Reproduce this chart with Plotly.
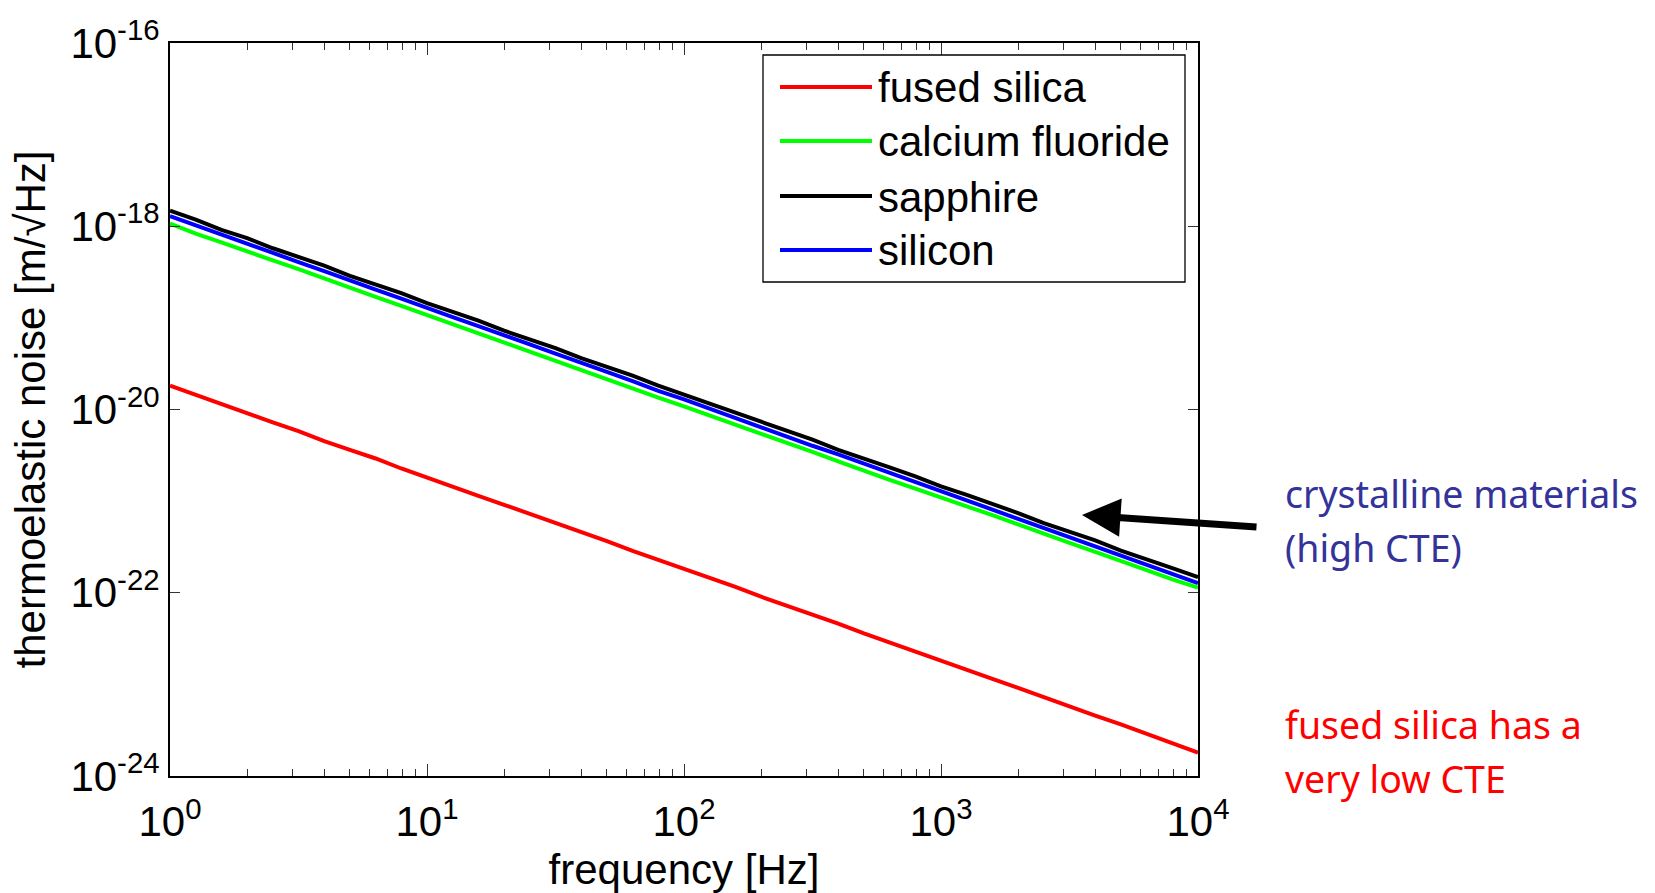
import plotly.graph_objects as go

# ---------------- data ----------------
freq = [1, 1.259, 1.585, 1.995, 2.512, 3.162, 3.981, 5.012, 6.310, 7.943,
        10, 12.59, 15.85, 19.95, 25.12, 31.62, 39.81, 50.12, 63.10, 79.43,
        100, 125.9, 158.5, 199.5, 251.2, 316.2, 398.1, 501.2, 631.0, 794.3,
        1000, 1259, 1585, 1995, 2512, 3162, 3981, 5012, 6310, 7943, 10000]

fused_silica = [1.82e-20, 1.44e-20, 1.17e-20, 9.05e-21, 7.24e-21, 5.80e-21, 4.52e-21, 3.63e-21, 2.92e-21, 2.27e-21,
                1.82e-21, 1.46e-21, 1.14e-21, 9.12e-22, 7.30e-22, 5.70e-22, 4.57e-22, 3.66e-22, 2.86e-22, 2.29e-22,
                1.82e-22, 1.45e-22, 1.16e-22, 9.05e-23, 7.24e-23, 5.75e-23, 4.60e-23, 3.60e-23, 2.88e-23, 2.30e-23,
                1.81e-23, 1.45e-23, 1.15e-23, 9.15e-24, 7.20e-24, 5.75e-24, 4.57e-24, 3.65e-24, 2.86e-24, 2.29e-24,
                1.80e-24]

calcium_fluoride = [1.07e-18, 8.30e-19, 6.65e-19, 5.37e-19, 4.25e-19, 3.40e-19, 2.68e-19, 2.15e-19, 1.69e-19, 1.35e-19,
                    1.07e-19, 8.55e-20, 6.74e-20, 5.37e-20, 4.24e-20, 3.39e-20, 2.70e-20, 2.13e-20, 1.71e-20, 1.35e-20,
                    1.08e-20, 8.62e-21, 6.82e-21, 5.46e-21, 4.30e-21, 3.44e-21, 2.71e-21, 2.18e-21, 1.71e-21, 1.37e-21,
                    1.11e-21, 8.78e-22, 7.02e-22, 5.54e-22, 4.43e-22, 3.50e-22, 2.80e-22, 2.20e-22, 1.77e-22, 1.40e-22,
                    1.14e-22]

sapphire = [1.48e-18, 1.18e-18, 9.12e-19, 7.41e-19, 5.75e-19, 4.68e-19, 3.72e-19, 2.88e-19, 2.34e-19, 1.86e-19,
            1.45e-19, 1.17e-19, 9.33e-20, 7.24e-20, 5.89e-20, 4.68e-20, 3.63e-20, 2.95e-20, 2.34e-20, 1.82e-20,
            1.45e-20, 1.17e-20, 9.33e-21, 7.24e-21, 5.89e-21, 4.68e-21, 3.63e-21, 2.95e-21, 2.34e-21, 1.86e-21,
            1.45e-21, 1.17e-21, 9.33e-22, 7.41e-22, 5.75e-22, 4.68e-22, 3.72e-22, 2.88e-22, 2.34e-22, 1.86e-22,
            1.48e-22]

silicon = [1.29e-18, 1.02e-18, 8.03e-19, 6.46e-19, 5.07e-19, 4.07e-19, 3.24e-19, 2.54e-19, 2.04e-19, 1.62e-19,
           1.27e-19, 1.02e-19, 8.13e-20, 6.38e-20, 5.13e-20, 4.07e-20, 3.20e-20, 2.57e-20, 2.04e-20, 1.60e-20,
           1.29e-20, 1.02e-20, 8.03e-21, 6.46e-21, 5.13e-21, 4.02e-21, 3.24e-21, 2.57e-21, 2.02e-21, 1.62e-21,
           1.29e-21, 1.01e-21, 8.13e-22, 6.46e-22, 5.07e-22, 4.07e-22, 3.24e-22, 2.54e-22, 2.04e-22, 1.60e-22,
           1.27e-22]

series_names = ["fused silica", "calcium fluoride", "sapphire", "silicon"]
series_values = [fused_silica, calcium_fluoride, sapphire, silicon]
series_colors = ["#ff0000", "#00ff00", "#000000", "#0000ff"]

x_tickvals = [1, 10, 100, 1000, 10000]
x_ticktext = ["10<sup>0</sup>", "10<sup>1</sup>", "10<sup>2</sup>", "10<sup>3</sup>", "10<sup>4</sup>"]
x_minor_tickvals = [2, 3, 4, 5, 6, 7, 8, 9,
                    20, 30, 40, 50, 60, 70, 80, 90,
                    200, 300, 400, 500, 600, 700, 800, 900,
                    2000, 3000, 4000, 5000, 6000, 7000, 8000, 9000]
y_tickvals = [1e-24, 1e-22, 1e-20, 1e-18, 1e-16]
y_ticktext = ["10<sup>-24</sup>", "10<sup>-22</sup>", "10<sup>-20</sup>", "10<sup>-18</sup>", "10<sup>-16</sup>"]

FONT = "Liberation Sans, Arial, sans-serif"
FS = 42
LW = 4

fig = go.Figure()
for name, vals, col in zip(series_names, series_values, series_colors):
    fig.add_trace(go.Scatter(x=freq, y=vals, mode="lines", name=name,
                             line=dict(color=col, width=LW), showlegend=False))

W, H = 1655, 893
L, R, T, B = 170, 1198, 43, 776


def px(x):
    return (x - L) / (R - L)


def py(y):
    return (B - y) / (B - T)


shapes = []
annotations = []

# custom legend box
shapes.append(dict(type="rect", xref="paper", yref="paper",
                   x0=px(763), x1=px(1185), y0=py(282), y1=py(55),
                   line=dict(color="black", width=1.3), fillcolor="white", layer="above"))
rows = [87, 141, 196, 250]
for name, col, ry in zip(series_names, series_colors, rows):
    shapes.append(dict(type="line", xref="paper", yref="paper",
                       x0=px(780), x1=px(872), y0=py(ry), y1=py(ry),
                       line=dict(color=col, width=LW), layer="above"))
    annotations.append(dict(text=name, xref="paper", yref="paper", x=px(876), y=py(ry + 1),
                            xanchor="left", yanchor="middle", showarrow=False,
                            font=dict(family=FONT, size=FS, color="black")))

# arrow
annotations.append(dict(text="", xref="paper", yref="paper", x=px(1082), y=py(515),
                        ax=176, ay=12, axref="pixel", ayref="pixel",
                        showarrow=True, arrowhead=2, arrowsize=1.1, arrowwidth=7,
                        arrowcolor="black"))

NOTE_FONT = "Noto Sans, Open Sans, sans-serif"
NFS = 37.5
annotations.append(dict(text="crystalline materials", xref="paper", yref="paper",
                        x=px(1283), y=py(493), xanchor="left", yanchor="middle", showarrow=False,
                        font=dict(family=NOTE_FONT, size=NFS, color="#333399")))
annotations.append(dict(text="(high CTE)", xref="paper", yref="paper",
                        x=px(1283), y=py(547), xanchor="left", yanchor="middle", showarrow=False,
                        font=dict(family=NOTE_FONT, size=NFS, color="#333399")))
annotations.append(dict(text="fused silica has a", xref="paper", yref="paper",
                        x=px(1283), y=py(724), xanchor="left", yanchor="middle", showarrow=False,
                        font=dict(family=NOTE_FONT, size=NFS, color="#ff0000")))
annotations.append(dict(text="very low CTE", xref="paper", yref="paper",
                        x=px(1283), y=py(778), xanchor="left", yanchor="middle", showarrow=False,
                        font=dict(family=NOTE_FONT, size=NFS, color="#ff0000")))

fig.update_layout(
    width=W, height=H,
    margin=dict(l=L, r=W - R, t=T, b=H - B),
    paper_bgcolor="white", plot_bgcolor="white",
    font=dict(family=FONT, size=FS, color="black"),
    shapes=shapes, annotations=annotations,
    showlegend=False,
)

fig.update_xaxes(
    type="log", range=[0, 4], tickvals=x_tickvals, ticktext=x_ticktext,
    ticks="inside", ticklen=12, tickwidth=1, tickcolor="#333333",
    showline=True, linecolor="black", linewidth=2, mirror="allticks",
    showgrid=False, zeroline=False, automargin=False,
    minor=dict(tickvals=x_minor_tickvals, ticks="inside", ticklen=7, tickwidth=1,
               tickcolor="#333333", showgrid=False),
    tickfont=dict(family=FONT, size=FS),
    ticklabelstandoff=8,
    title=dict(text="frequency [Hz]", font=dict(family=FONT, size=FS), standoff=10),
)
fig.update_yaxes(
    type="log", range=[-24, -16], tickvals=y_tickvals, ticktext=y_ticktext,
    ticks="inside", ticklen=10, tickwidth=1, tickcolor="#333333",
    showline=True, linecolor="black", linewidth=2, mirror="allticks",
    showgrid=False, zeroline=False, automargin=False,
    tickfont=dict(family=FONT, size=FS),
    title=dict(text="thermoelastic noise [m/√Hz]", font=dict(family=FONT, size=FS), standoff=12),
)

fig.write_html("out.html")
